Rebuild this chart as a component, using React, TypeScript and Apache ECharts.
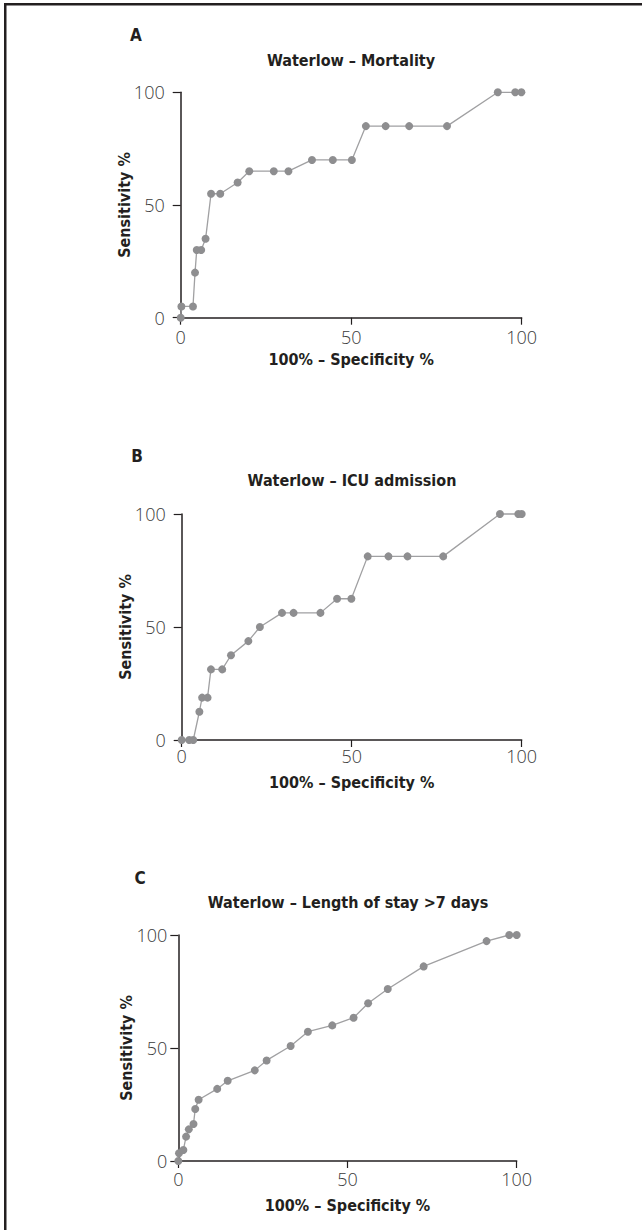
import React, { useEffect, useRef } from "react";
import * as echarts from "echarts";

const mortalityX = [0, 0.2, 3.6, 4.2, 4.7, 6.0, 7.3, 8.9, 11.6, 16.7, 20.1, 27.3, 31.6, 38.5, 44.6, 50.2, 54.3, 60.1, 67.0, 78.1, 93.0, 98.1, 99.9];
const mortalityY = [0, 5, 5, 20, 30, 30, 35, 55, 55, 60, 65, 65, 65, 70, 70, 70, 85, 85, 85, 85, 100, 100, 100];

const icuX = [0, 2.2, 3.4, 5.2, 6.0, 7.6, 8.6, 11.9, 14.5, 19.6, 23.0, 29.5, 32.9, 40.8, 45.7, 49.9, 54.7, 60.8, 66.4, 76.9, 93.6, 99.0, 100];
const icuY = [0, 0, 0, 12.5, 18.75, 18.75, 31.25, 31.25, 37.5, 43.75, 50, 56.25, 56.25, 56.25, 62.5, 62.5, 81.25, 81.25, 81.25, 81.25, 100, 100, 100];

const losX = [0, 0.2, 1.5, 2.3, 3.1, 4.5, 5.0, 6.0, 11.5, 14.6, 22.6, 26.1, 33.2, 38.3, 45.5, 51.8, 56.1, 61.9, 72.5, 91.1, 97.8, 100];
const losY = [0, 3.4, 4.9, 10.8, 14, 16.4, 23, 27.1, 31.9, 35.5, 40.1, 44.5, 50.9, 57.2, 60, 63.4, 69.8, 76.1, 86.1, 97.3, 100, 100];

const panelLetters = ["A", "B", "C"];
const panelTitles = ["Waterlow – Mortality", "Waterlow – ICU admission", "Waterlow – Length of stay >7 days"];
const xAxisName = "100% – Specificity %";
const yAxisName = "Sensitivity %";
const axisMin = 0;
const axisMax = 100;
const axisInterval = 50;

const BOLD = "'DejaVu Sans Condensed', 'Liberation Sans Narrow', sans-serif";
const LIGHT = "'Open Sans', 'Liberation Sans', sans-serif";

export default function App() {
  const ref = useRef<HTMLDivElement>(null);
  useEffect(() => {
    if (!ref.current) return;
    const chart = echarts.init(ref.current, undefined, { renderer: "svg" });

    const grids = [
      { left: 180.7, top: 92.3, width: 341, height: 225.4 },
      { left: 181.7, top: 514, width: 340, height: 226 },
      { left: 178.3, top: 935, width: 338.4, height: 226 },
    ];
    const yLabelMargin = [16, 16, 11];
    const xLabelMargin = [10, 7, 9];
    const yNameGap = [48, 48, 44];
    const xNameGap = [34, 34, 36];
    const letterPos = [[136, 35], [137, 456], [140, 878]];
    const titlePos = [[351, 60], [352, 480], [348, 902]];
    const seriesData = [
      mortalityX.map((x, i) => [x, mortalityY[i]]),
      icuX.map((x, i) => [x, icuY[i]]),
      losX.map((x, i) => [x, losY[i]]),
    ];

    const axisCommon = (i: number, isX: boolean) => ({
      type: "value",
      gridIndex: i,
      min: axisMin,
      max: axisMax,
      interval: axisInterval,
      name: isX ? xAxisName : yAxisName,
      nameLocation: "middle",
      nameGap: isX ? xNameGap[i] : yNameGap[i],
      nameMoveOverlap: false,
      nameTextStyle: { fontFamily: BOLD, fontWeight: "bold", fontSize: 16, color: "#231f20" },
      axisLine: { show: true, lineStyle: { color: "#231f20", width: 1.5 } },
      axisTick: { show: true, length: isX ? 7 : 8, lineStyle: { color: "#231f20", width: 1.2 } },
      axisLabel: {
        margin: isX ? xLabelMargin[i] : yLabelMargin[i],
        fontFamily: LIGHT,
        fontWeight: 300,
        fontSize: 18,
        color: "#3a3a3a",
      },
      splitLine: { show: false },
    });

    const graphic: any[] = [
      { type: "rect", shape: { x: 4, y: 3, width: 638, height: 2.5 }, style: { fill: "#231f20" } },
      { type: "rect", shape: { x: 4, y: 3, width: 2.5, height: 1227 }, style: { fill: "#231f20" } },
    ];
    for (let i = 0; i < 3; i++) {
      graphic.push({
        type: "text",
        x: letterPos[i][0],
        y: letterPos[i][1],
        style: {
          text: panelLetters[i],
          fontFamily: BOLD,
          fontWeight: "bold",
          fontSize: 17,
          fill: "#231f20",
          textAlign: "center",
          textVerticalAlign: "middle",
        },
      });
      graphic.push({
        type: "text",
        x: titlePos[i][0],
        y: titlePos[i][1],
        style: {
          text: panelTitles[i],
          fontFamily: BOLD,
          fontWeight: "bold",
          fontSize: 16,
          fill: "#231f20",
          textAlign: "center",
          textVerticalAlign: "middle",
        },
      });
    }

    chart.setOption({
      animation: false,
      backgroundColor: "#ffffff",
      grid: grids.map((g) => ({ ...g, containLabel: false })),
      xAxis: [0, 1, 2].map((i) => axisCommon(i, true)),
      yAxis: [0, 1, 2].map((i) => axisCommon(i, false)),
      series: [0, 1, 2].map((i) => ({
        type: "line",
        xAxisIndex: i,
        yAxisIndex: i,
        data: seriesData[i],
        symbol: "circle",
        symbolSize: 8,
        showSymbol: true,
        clip: false,
        itemStyle: { color: "#8e8e90" },
        lineStyle: { color: "#a0a0a2", width: 1.3 },
        z: 3,
      })),
      graphic,
    });
    return () => chart.dispose();
  }, []);
  return <div ref={ref} style={{ position: "absolute", left: 0, top: 0, width: 642, height: 1230 }} />;
}
